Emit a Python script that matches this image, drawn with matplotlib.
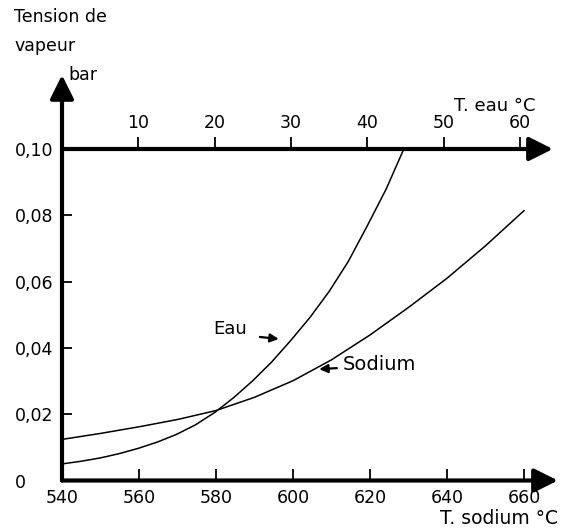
import matplotlib
matplotlib.use('Agg')
import matplotlib.pyplot as plt

# vapour pressure (bar)
sodium_temp = [540, 550, 560, 570, 580, 590, 600, 610, 620, 630, 640, 650, 660]
sodium_p = [0.0124, 0.0142, 0.0162, 0.0184, 0.0211, 0.0251, 0.0301, 0.0364,
            0.0439, 0.0522, 0.0610, 0.0708, 0.0814]
eau_temp = [0, 2.5, 5, 7.5, 10, 12.5, 15, 17.5, 20, 22.5, 25, 27.5, 30,
            32.5, 35, 37.5, 40, 42.5, 44.7]
eau_p = [0.0050, 0.0058, 0.0068, 0.0081, 0.0097, 0.0116, 0.0139, 0.0168,
         0.0205, 0.0250, 0.0301, 0.0358, 0.0423, 0.0492, 0.0570, 0.0660,
         0.0768, 0.0880, 0.0995]

y_ticks = [0, 0.02, 0.04, 0.06, 0.08, 0.10]
y_labels = ['0', '0,02', '0,04', '0,06', '0,08', '0,10']
sodium_ticks = [540, 560, 580, 600, 620, 640, 660]
eau_ticks = [10, 20, 30, 40, 50, 60]

# top scale (water) sits on the 0,10 line; 1 degC water = ~1.98 degC sodium
EAU_SCALE = 1.982


def eau_to_sodium(t):
    return 540 + t * EAU_SCALE


def sodium_to_eau(t):
    return (t - 540) / EAU_SCALE


W, H = 567, 528


def fig_xy(x, y):
    # pixel position -> figure fraction
    return x / W, 1 - y / H


fig = plt.figure(figsize=(W / 100, H / 100), dpi=100)
ax = fig.add_axes([62 / W, (H - 480.5) / H, 498 / W, 410.5 / H])
ax.set_xlim(540, 540 + 498 / 3.85)
ax.set_ylim(0, 410.5 / 3315)
for s in ax.spines.values():
    s.set_visible(False)

ink = 'black'
axis_lw = 3
head = '-|>,head_length=0.8,head_width=0.4'

# axes drawn as arrows
ax.annotate('', xy=(540, 0.1223), xytext=(540, 0), annotation_clip=False,
            arrowprops=dict(arrowstyle=head, lw=axis_lw, color=ink,
                            shrinkA=0, shrinkB=0, mutation_scale=18))
ax.annotate('', xy=(668.8, 0), xytext=(540, 0), annotation_clip=False,
            arrowprops=dict(arrowstyle=head, lw=axis_lw, color=ink,
                            shrinkA=0, shrinkB=0, mutation_scale=18))
ax.annotate('', xy=(667.5, 0.10), xytext=(540, 0.10), annotation_clip=False,
            arrowprops=dict(arrowstyle=head, lw=axis_lw, color=ink,
                            shrinkA=0, shrinkB=0, mutation_scale=18))

# bottom scale: sodium temperature
ax.set_xticks(sodium_ticks)
ax.tick_params(axis='x', direction='in', length=8.6, width=1.3, pad=6,
               labelsize=12.5, colors=ink)

# left scale: pressure, labels flush left
ax.set_yticks(y_ticks)
ax.set_yticklabels(y_labels)
ax.tick_params(axis='y', direction='in', length=7, width=1.3, pad=34,
               labelsize=12.5, colors=ink)
for lbl in ax.get_yticklabels():
    lbl.set_horizontalalignment('left')

# top scale: water temperature on the 0,10 line, ticks and labels above
sec = ax.secondary_xaxis(0.10, functions=(sodium_to_eau, eau_to_sodium),
                         transform=ax.transData)
sec.set_alignment('top')
sec.set_xticks(eau_ticks)
sec.tick_params(direction='out', length=8.6, width=1.3, pad=3.6,
                labelsize=12.5, colors=ink)
for s in sec.spines.values():
    s.set_visible(False)

# curves
ax.plot(sodium_temp, sodium_p, color=ink, lw=1.1, clip_on=False)
ax.plot([eau_to_sodium(t) for t in eau_temp], eau_p, color=ink, lw=1.1,
        clip_on=False)

# curve labels with small arrows
small = '-|>,head_length=0.5,head_width=0.25'
ax.text(583.6, 0.0457, 'Eau', fontsize=13, ha='center', va='center')
ax.annotate('', xy=(596.3, 0.0427), xytext=(591.4, 0.0433),
            annotation_clip=False,
            arrowprops=dict(arrowstyle=small, lw=1.6, color=ink,
                            shrinkA=0, shrinkB=0, mutation_scale=10))
ax.text(613.0, 0.0351, 'Sodium', fontsize=14, ha='left', va='center')
ax.annotate('', xy=(606.8, 0.0336), xytext=(611.4, 0.0339),
            annotation_clip=False,
            arrowprops=dict(arrowstyle=small, lw=1.6, color=ink,
                            shrinkA=0, shrinkB=0, mutation_scale=10))

# titles
fig.text(*fig_xy(14, 17), 'Tension de', fontsize=12.5, ha='left', va='center')
fig.text(*fig_xy(14, 46), 'vapeur', fontsize=12.5, ha='left', va='center')
fig.text(*fig_xy(68, 75), 'bar', fontsize=12.5, ha='left', va='center')
fig.text(*fig_xy(535, 106), 'T. eau °C', fontsize=13, ha='right', va='center')
fig.text(*fig_xy(558, 518), 'T. sodium °C', fontsize=13.5, ha='right',
         va='center')

fig.savefig('out.png', dpi=100, facecolor='white')
